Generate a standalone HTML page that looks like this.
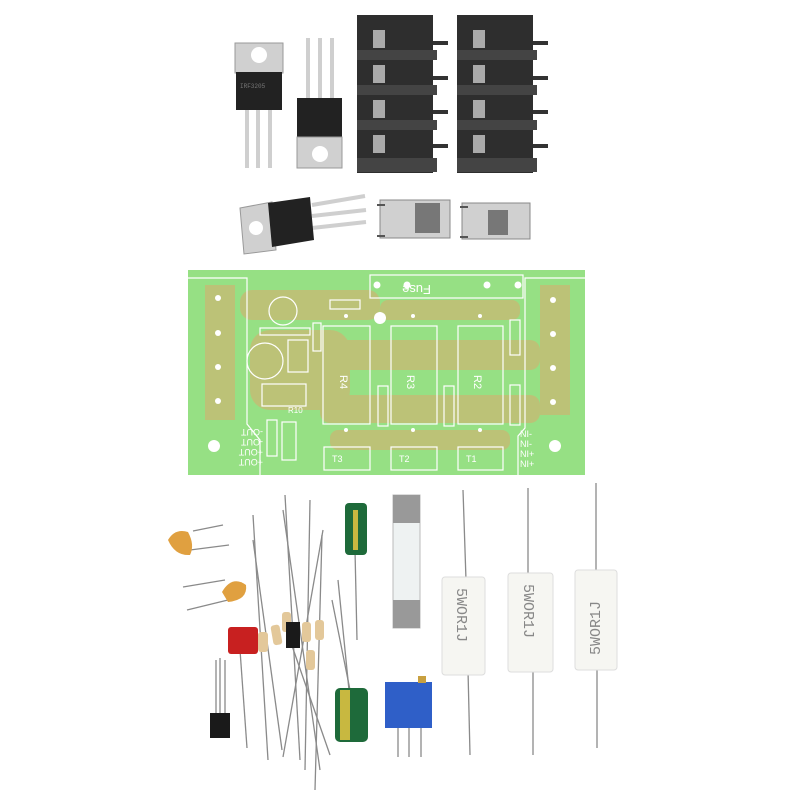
<!DOCTYPE html>
<html><head><meta charset="utf-8"><style>body{margin:0;background:#fff}svg{display:block}</style></head><body>
<svg width="800" height="800" viewBox="0 0 800 800" xmlns="http://www.w3.org/2000/svg" font-family="Liberation Mono, monospace">
<rect width="800" height="800" fill="#fff"/>
<!-- TO-220 #1 -->
<g>
<line x1="247" y1="105" x2="247" y2="168" stroke="#cfcfcf" stroke-width="4"/>
<line x1="258" y1="105" x2="258" y2="168" stroke="#cfcfcf" stroke-width="4"/>
<line x1="270" y1="105" x2="270" y2="168" stroke="#cfcfcf" stroke-width="4"/>
<rect x="235" y="43" width="48" height="30" fill="#d0d0d0" stroke="#999"/>
<circle cx="259" cy="55" r="8" fill="#fff"/>
<rect x="236" y="72" width="46" height="38" fill="#222"/>
<text x="240" y="88" font-size="6" fill="#777">IRF3205</text>
</g>
<!-- TO-220 #2 -->
<g>
<line x1="308" y1="38" x2="308" y2="100" stroke="#cfcfcf" stroke-width="4"/>
<line x1="320" y1="38" x2="320" y2="100" stroke="#cfcfcf" stroke-width="4"/>
<line x1="332" y1="38" x2="332" y2="100" stroke="#cfcfcf" stroke-width="4"/>
<rect x="297" y="98" width="45" height="40" fill="#222"/>
<rect x="297" y="137" width="45" height="31" fill="#d0d0d0" stroke="#999"/>
<circle cx="320" cy="154" r="8" fill="#fff"/>
</g>
<!-- terminal blocks -->
<g>
<rect x="357" y="15" width="76" height="158" fill="#2e2e2e"/>
<g fill="#444"><rect x="357" y="50" width="80" height="10"/><rect x="357" y="85" width="80" height="10"/><rect x="357" y="120" width="80" height="10"/><rect x="357" y="158" width="80" height="14"/></g>
<g fill="#aaa"><rect x="373" y="30" width="12" height="18"/><rect x="373" y="65" width="12" height="18"/><rect x="373" y="100" width="12" height="18"/><rect x="373" y="135" width="12" height="18"/></g>
<g stroke="#333" stroke-width="4"><line x1="433" y1="43" x2="448" y2="43"/><line x1="433" y1="78" x2="448" y2="78"/><line x1="433" y1="112" x2="448" y2="112"/><line x1="433" y1="146" x2="448" y2="146"/></g>
</g>
<g>
<rect x="457" y="15" width="76" height="158" fill="#2e2e2e"/>
<g fill="#444"><rect x="457" y="50" width="80" height="10"/><rect x="457" y="85" width="80" height="10"/><rect x="457" y="120" width="80" height="10"/><rect x="457" y="158" width="80" height="14"/></g>
<g fill="#aaa"><rect x="473" y="30" width="12" height="18"/><rect x="473" y="65" width="12" height="18"/><rect x="473" y="100" width="12" height="18"/><rect x="473" y="135" width="12" height="18"/></g>
<g stroke="#333" stroke-width="4"><line x1="533" y1="43" x2="548" y2="43"/><line x1="533" y1="78" x2="548" y2="78"/><line x1="533" y1="112" x2="548" y2="112"/><line x1="533" y1="146" x2="548" y2="146"/></g>
</g>
<!-- bottom transistor -->
<g>
<g stroke="#cfcfcf" stroke-width="4"><line x1="312" y1="205" x2="365" y2="196"/><line x1="312" y1="216" x2="366" y2="210"/><line x1="312" y1="228" x2="366" y2="222"/></g>
<polygon points="240,208 272,202 276,250 244,254" fill="#d0d0d0" stroke="#999"/>
<circle cx="256" cy="228" r="7" fill="#fff"/>
<polygon points="268,203 310,197 314,240 272,247" fill="#222"/>
</g>
<!-- clips -->
<g fill="#d0d0d0" stroke="#888"><rect x="380" y="200" width="70" height="38"/><rect x="462" y="203" width="68" height="36"/></g>
<rect x="415" y="203" width="25" height="30" fill="#777"/><rect x="488" y="210" width="20" height="25" fill="#777"/>
<g stroke="#555" stroke-width="2"><line x1="377" y1="205" x2="385" y2="205"/><line x1="377" y1="236" x2="385" y2="236"/><line x1="460" y1="207" x2="468" y2="207"/><line x1="460" y1="237" x2="468" y2="237"/></g>
<!-- PCB -->
<g>
<rect x="188" y="270" width="397" height="205" fill="#96e084"/>
<g fill="#c6bb74" opacity="0.8">
<rect x="205" y="285" width="30" height="135"/>
<rect x="540" y="285" width="30" height="130"/>
<rect x="240" y="290" width="140" height="30" rx="12"/>
<rect x="250" y="330" width="100" height="80" rx="20"/>
<rect x="300" y="340" width="240" height="30" rx="10"/>
<rect x="320" y="395" width="220" height="28" rx="10"/>
<rect x="330" y="430" width="180" height="20" rx="8"/>
<rect x="380" y="300" width="140" height="20" rx="8"/>
</g>
<g fill="none" stroke="#fff" stroke-width="1.2">
<polyline points="188,278 247,278 247,424 260,440 260,475"/>
<polyline points="585,278 525,278 525,428 518,436 518,475"/>
<rect x="370" y="275" width="153" height="23"/>
<rect x="323" y="326" width="47" height="98"/>
<rect x="391" y="326" width="46" height="98"/>
<rect x="458" y="326" width="45" height="98"/>
<rect x="324" y="447" width="46" height="23"/>
<rect x="391" y="447" width="46" height="23"/>
<rect x="458" y="447" width="45" height="23"/>
<circle cx="283" cy="311" r="14"/>
<circle cx="265" cy="361" r="18"/>
<rect x="288" y="340" width="20" height="32"/>
<rect x="262" y="384" width="44" height="22"/>
<rect x="260" y="328" width="50" height="7"/>
<rect x="313" y="323" width="8" height="28"/>
<rect x="330" y="300" width="30" height="9"/>
<rect x="267" y="420" width="10" height="36"/>
<rect x="282" y="422" width="14" height="38"/>
<rect x="378" y="386" width="10" height="40"/>
<rect x="444" y="386" width="10" height="40"/>
<rect x="510" y="320" width="10" height="35"/>
<rect x="510" y="385" width="10" height="40"/>
</g>
<g fill="#fff">
<circle cx="218" cy="298" r="3"/><circle cx="218" cy="333" r="3"/><circle cx="218" cy="367" r="3"/><circle cx="218" cy="401" r="3"/>
<circle cx="553" cy="300" r="3"/><circle cx="553" cy="334" r="3"/><circle cx="553" cy="368" r="3"/><circle cx="553" cy="402" r="3"/>
<circle cx="214" cy="446" r="6"/><circle cx="555" cy="446" r="6"/><circle cx="380" cy="318" r="6"/>
<circle cx="377" cy="285" r="3.5"/><circle cx="407" cy="285" r="3.5"/><circle cx="487" cy="285" r="3.5"/><circle cx="518" cy="285" r="3.5"/>
<circle cx="346" cy="430" r="2"/><circle cx="413" cy="430" r="2"/><circle cx="480" cy="430" r="2"/>
<circle cx="346" cy="316" r="2"/><circle cx="413" cy="316" r="2"/><circle cx="480" cy="316" r="2"/>
</g>
<g fill="#fff" font-size="10" font-family="Liberation Sans, sans-serif">
<text x="340" y="375" transform="rotate(90 340 375)" font-size="11">R4</text>
<text x="407" y="375" transform="rotate(90 407 375)" font-size="11">R3</text>
<text x="474" y="375" transform="rotate(90 474 375)" font-size="11">R2</text>
<text x="465" y="291" transform="rotate(180 448 288)" font-size="13">Fuse</text>
<text x="233" y="437" transform="rotate(180 248 433)" font-size="9">-OUT</text>
<text x="233" y="447" transform="rotate(180 248 443)" font-size="9">-OUT</text>
<text x="233" y="457" transform="rotate(180 248 453)" font-size="9">+OUT</text>
<text x="233" y="467" transform="rotate(180 248 463)" font-size="9">+OUT</text>
<text x="520" y="437" font-size="9">NI-</text>
<text x="520" y="447" font-size="9">NI-</text>
<text x="520" y="457" font-size="9">NI+</text>
<text x="520" y="467" font-size="9">NI+</text>
<text x="332" y="462" font-size="9">T3</text><text x="399" y="462" font-size="9">T2</text><text x="466" y="462" font-size="9">T1</text>
<text x="288" y="413" font-size="8">R10</text>
</g>
</g>
<!-- bottom components: wires -->
<g stroke="#8a8a8a" stroke-width="1.3" fill="none">
<line x1="253" y1="540" x2="282" y2="750"/>
<line x1="253" y1="515" x2="268" y2="760"/>
<line x1="285" y1="495" x2="300" y2="760"/>
<line x1="283" y1="510" x2="320" y2="770"/>
<line x1="310" y1="500" x2="305" y2="770"/>
<line x1="323" y1="530" x2="283" y2="757"/>
<line x1="322" y1="535" x2="315" y2="790"/>
<line x1="290" y1="640" x2="330" y2="755"/>
<line x1="332" y1="600" x2="350" y2="690"/>
<line x1="338" y1="580" x2="349" y2="690"/>
<line x1="355" y1="550" x2="357" y2="640"/>
<line x1="463" y1="490" x2="466" y2="580"/><line x1="468" y1="670" x2="470" y2="755"/>
<line x1="528" y1="488" x2="528" y2="575"/><line x1="533" y1="670" x2="533" y2="755"/>
<line x1="596" y1="483" x2="596" y2="572"/><line x1="597" y1="668" x2="597" y2="748"/>
<line x1="193" y1="531" x2="223" y2="525"/><line x1="190" y1="550" x2="229" y2="545"/>
<line x1="183" y1="587" x2="225" y2="580"/><line x1="187" y1="610" x2="228" y2="600"/>
<line x1="216" y1="660" x2="216" y2="714"/><line x1="220" y1="658" x2="220" y2="714"/><line x1="225" y1="660" x2="225" y2="714"/>
<line x1="240" y1="650" x2="247" y2="748"/>
<line x1="398" y1="725" x2="398" y2="757"/><line x1="409" y1="725" x2="409" y2="757"/><line x1="421" y1="725" x2="421" y2="757"/>
</g>
<!-- ceramic caps -->
<path d="M168,540 Q175,528 188,532 Q195,545 190,555 Q175,556 168,540Z" fill="#e0a040"/>
<path d="M222,592 Q232,575 246,585 Q248,600 228,602Z" fill="#e0a040"/>
<!-- red film cap -->
<rect x="228" y="627" width="30" height="27" rx="3" fill="#c82020"/>
<!-- TO-92 -->
<rect x="210" y="713" width="20" height="25" fill="#1a1a1a"/>
<!-- small resistors & diode -->
<g fill="#e3c89a">
<rect x="258" y="632" width="10" height="20" rx="3"/>
<rect x="272" y="625" width="9" height="20" rx="3" transform="rotate(-10 276 635)"/>
<rect x="282" y="612" width="9" height="20" rx="3"/>
<rect x="302" y="622" width="9" height="20" rx="3"/>
<rect x="315" y="620" width="9" height="20" rx="3"/>
<rect x="306" y="650" width="9" height="20" rx="3"/>
</g>
<rect x="286" y="622" width="14" height="26" fill="#1a1a1a"/>
<!-- electrolytics -->
<rect x="345" y="503" width="22" height="52" rx="4" fill="#1e6a3a"/>
<rect x="353" y="510" width="5" height="40" fill="#c8b840"/>
<rect x="335" y="688" width="33" height="54" rx="5" fill="#1e6a3a"/>
<rect x="340" y="690" width="10" height="50" fill="#c8b840"/>
<!-- fuse -->
<rect x="393" y="495" width="27" height="133" fill="#eef2f2" stroke="#bbb"/>
<rect x="393" y="495" width="27" height="28" fill="#999"/>
<rect x="393" y="600" width="27" height="28" fill="#999"/>
<!-- trimmer -->
<rect x="385" y="682" width="47" height="46" fill="#2f5fc8"/>
<rect x="418" y="676" width="8" height="7" fill="#c8a040"/>
<!-- power resistors -->
<g fill="#f6f6f2" stroke="#ddd">
<rect x="442" y="577" width="43" height="98" rx="3"/>
<rect x="508" y="573" width="45" height="99" rx="3"/>
<rect x="575" y="570" width="42" height="100" rx="3"/>
</g>
<g font-size="15" fill="#888" font-family="Liberation Mono, monospace">
<text x="453" y="592" transform="rotate(90 457 592)">5WOR1J</text>
<text x="520" y="588" transform="rotate(90 524 588)">5WOR1J</text>
<text x="600" y="655" transform="rotate(-90 600 655)">5WOR1J</text>
</g>
</svg>
</body></html>
